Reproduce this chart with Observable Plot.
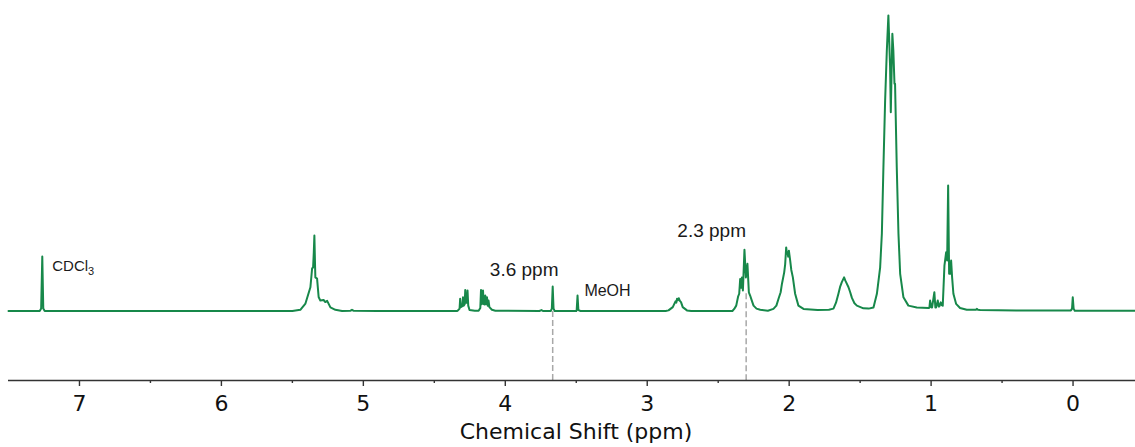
<!DOCTYPE html>
<html>
<head>
<meta charset="utf-8">
<script src="https://cdn.jsdelivr.net/npm/d3@7"></script>
<script src="https://cdn.jsdelivr.net/npm/@observablehq/plot@0.6"></script>
<style>
  html, body { margin: 0; padding: 0; background: #fff; }
  #chart svg { display: block; }
</style>
</head>
<body>
<div id="chart"></div>
<script>
// Spectrum: chemical shift (ppm) and relative intensity
const shift = [
  7.50, 7.28, 7.27, 7.262, 7.255, 7.245,
  5.50, 5.444, 5.408, 5.373, 5.361, 5.354, 5.349, 5.345, 5.340, 5.338, 5.326, 5.315, 5.303, 5.28, 5.268, 5.255, 5.232, 5.197, 5.15, 5.09, 5.08, 5.07,
  4.90, 4.34, 4.335, 4.322, 4.318, 4.313, 4.302, 4.298, 4.293, 4.286, 4.282, 4.277, 4.270, 4.266, 4.261, 4.252, 4.215,
  4.188, 4.176, 4.171, 4.166, 4.161, 4.157, 4.152, 4.145, 4.141, 4.136, 4.133, 4.129, 4.124, 4.121, 4.118, 4.112, 4.094, 4.07,
  3.76, 3.745, 3.735, 3.68, 3.672, 3.666, 3.660, 3.652,
  3.50, 3.497, 3.491, 3.485, 3.47,
  2.87, 2.85, 2.82, 2.80, 2.795, 2.79, 2.785, 2.778, 2.77, 2.762, 2.75, 2.72, 2.69,
  2.40, 2.387, 2.373, 2.36, 2.352, 2.345, 2.338, 2.333, 2.326, 2.315, 2.305, 2.294, 2.284, 2.275, 2.262, 2.251, 2.23, 2.204, 2.15,
  2.111, 2.09, 2.075, 2.06, 2.051, 2.035, 2.028, 2.021, 2.016, 2.012, 2.007, 2.002, 1.993, 1.985, 1.974, 1.958, 1.935, 1.899,
  1.80, 1.72, 1.688, 1.67, 1.653, 1.64, 1.629, 1.613, 1.605, 1.599, 1.582, 1.570, 1.558, 1.54, 1.523, 1.477, 1.44, 1.406,
  1.382, 1.359, 1.347, 1.336, 1.324, 1.312, 1.301, 1.289, 1.284, 1.273, 1.266, 1.258, 1.254, 1.242, 1.230, 1.218, 1.195, 1.160, 1.101, 1.019,
  1.012, 1.007, 0.998, 0.993, 0.977, 0.970, 0.965, 0.953, 0.946, 0.942, 0.932, 0.925, 0.918, 0.906, 0.894, 0.887, 0.880, 0.873, 0.866, 0.859, 0.852, 0.843, 0.824, 0.796, 0.749,
  0.685, 0.678, 0.67, 0.655, 0.40, 0.015, 0.007, 0.002, -0.004, -0.012, -0.44
];
const intensity = [
  0.2, 0.2, 1.0, 18.5, 1.0, 0.2,
  0.2, 0.6, 2.7, 8.2, 14.5, 14.9, 20, 25.6, 15, 11.5, 11.1, 4.9, 3.7, 3.9, 3.2, 3.6, 1.4, 0.6, 0.2, 0.3, 0.6, 0.3,
  0.2, 0.2, 0.3, 1.0, 4.3, 1.5, 1.8, 4.8, 2.0, 2.5, 7.3, 3.0, 3.0, 7.1, 2.0, 0.5, 0.3,
  0.3, 1.2, 7.3, 2.5, 2.8, 7.1, 2.5, 2.4, 5.4, 2.5, 2.6, 4.8, 2.0, 2.0, 3.7, 1.5, 0.6, 0.3,
  0.2, 0.5, 0.2, 0.2, 1.0, 8.4, 1.0, 0.2,
  0.2, 0.5, 5.4, 0.5, 0.2,
  0.2, 0.4, 1.5, 3.5, 3.0, 4.3, 3.8, 4.5, 3.6, 3.2, 1.5, 0.4, 0.2,
  0.2, 0.9, 2.0, 5.0, 6.0, 11, 8, 11.5, 7.1, 20.8, 11.5, 16.1, 6.5, 5.4, 3.5, 2.0, 1.0, 0.6, 0.3,
  0.9, 2.0, 4.3, 6.5, 9.3, 13.2, 16, 21.6, 19.5, 20, 18.5, 20.5, 17.2, 14, 11.5, 6, 2, 0.9,
  0.5, 0.6, 1.0, 3.0, 6, 8.5, 9.9, 11.5, 10.5, 9.9, 8.2, 6.5, 4.6, 2.8, 2.0, 1.1, 1.0, 1.4,
  6, 14.9, 26.2, 48.6, 71, 87.9, 99.7, 82.3, 67.1, 93.5, 87.9, 76.7, 76.7, 48.6, 26.2, 12.7, 4.8, 2.0, 1.4, 1.2,
  1.3, 3.7, 1.4, 1.4, 6.5, 1.4, 1.4, 3.7, 1.7, 1.7, 3.1, 2.2, 2.0, 15.5, 20, 17.2, 42.4, 12.7, 12.7, 17.2, 11.5, 6, 2.6, 1.2, 0.6,
  0.6, 0.9, 0.6, 0.5, 0.4, 0.4, 1.0, 4.8, 1.0, 0.3, 0.3
];

// Axis ticks
const majorTicks = [7, 6, 5, 4, 3, 2, 1, 0];
const minorTicks = [6.5, 5.5, 4.5, 3.5, 2.5, 1.5, 0.5];
const xDomain = [7.5, -0.44];
const yDomain = [-23.2, 100];

// Dashed guide lines (ppm, top intensity)
const guideShift = [3.666, 2.303];
const guideTop = [0, 6];

// Annotations
const noteText = ["CDCl3", "3.6 ppm", "MeOH", "2.3 ppm"];
const noteShift = [7.192, 3.867, 3.280, 2.546];
const noteIntensity = [15.2, 13.9, 6.9, 27.3];
const noteAnchor = ["start", "middle", "middle", "middle"];
const noteSize = [15, 19, 16, 19];

const xLabel = "Chemical Shift (ppm)";

const spectrum = shift.map((s, i) => ({shift: s, intensity: intensity[i]}));
const guides = guideShift.map((s, i) => ({shift: s, top: guideTop[i]}));
const notes = noteText.map((t, i) => ({text: t, shift: noteShift[i], intensity: noteIntensity[i], anchor: noteAnchor[i], size: noteSize[i]}));

const chart = Plot.plot({
  width: 1135,
  height: 447,
  marginLeft: 8,
  marginRight: 0,
  marginTop: 14,
  marginBottom: 67,
  style: {fontFamily: "'DejaVu Sans', sans-serif", background: "#fff", color: "#111"},
  x: {domain: xDomain, label: null},
  y: {domain: yDomain, axis: null},
  marks: [
    Plot.ruleX(guides, {x: "shift", y1: "top", y2: yDomain[0], stroke: "#a8a8a8", strokeWidth: 1.5, strokeDasharray: "6,3"}),
    Plot.line(spectrum, {x: "shift", y: "intensity", stroke: "#17884a", strokeWidth: 2, strokeLinejoin: "round"}),
    ...notes.map(n => Plot.text([n], {
      x: "shift", y: "intensity", text: "text", textAnchor: n.anchor,
      fontSize: n.size, fill: "#1a1a1a",
      fontFamily: "'Liberation Sans', Arial, sans-serif",
      letterSpacing: n.size > 17 ? 0.5 : 0
    })),
    Plot.ruleY([yDomain[0]], {stroke: "#333", strokeWidth: 1.6}),
    Plot.axisX({ticks: majorTicks, tickSize: 6, tickPadding: 9, fontSize: 22, stroke: "#333", strokeWidth: 1.4, fill: "#111", label: null, tickFormat: d => String(d)}),
    Plot.axisX({ticks: minorTicks, tickSize: 3, tickPadding: 0, stroke: "#333", strokeWidth: 1.4, label: null, tickFormat: () => ""}),
    Plot.text([xLabel], {frameAnchor: "bottom", dx: 4, dy: 43, lineAnchor: "top", fontSize: 22, fill: "#111", text: d => d})
  ]
});

document.getElementById("chart").appendChild(chart);

// Subscript for CDCl3
chart.querySelectorAll("text").forEach(t => {
  if (t.textContent === "CDCl3") {
    t.innerHTML = 'CDCl<tspan font-size="11" dy="4">3</tspan>';
  }
});
</script>
</body>
</html>
